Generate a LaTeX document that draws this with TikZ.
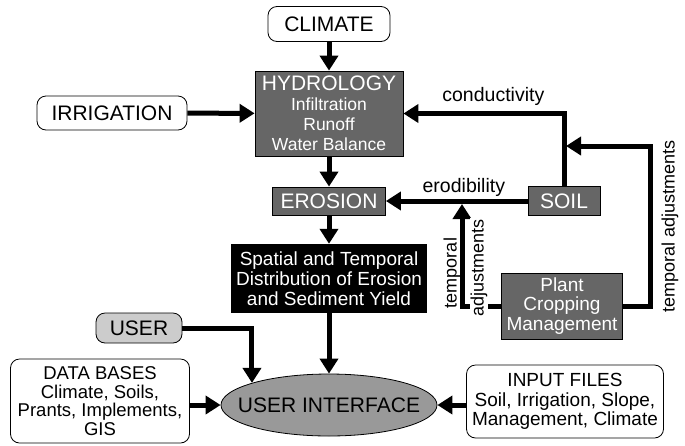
\documentclass[tikz,border=0pt]{standalone}
\usepackage{fontspec}
\setmainfont{Liberation Sans}
\usetikzlibrary{arrows.meta,shapes.geometric}

\begin{document}
\begin{tikzpicture}[x=1pt, y=-1pt,
    flow/.style = {line width=5pt,
        -{Triangle[length=15pt,width=18pt]}},
    lightbox/.style = {draw, rounded corners=9pt,
        fill=white, line width=0.8pt, align=center},
    darkbox/.style = {draw, fill=black!60, text=white,
        line width=0.8pt, align=center},
    big/.style = {font=\fontsize{21}{24}\selectfont},
    tag/.style = {font=\fontsize{18}{20}\selectfont, inner sep=2pt}]

\useasboundingbox (0,0) rectangle (685,445);

% Climate
\node[lightbox,big,minimum width=122pt,minimum height=35pt] (climate) at (329,24) {CLIMATE};

% Irrigation
\node[lightbox,big,minimum width=150pt,minimum height=34pt] (irrig) at (112,113) {IRRIGATION};

% Hydrology
\node[darkbox,minimum width=148pt,minimum height=85pt,
    font=\fontsize{17.5}{20}\selectfont] (hydro) at (329,113.5)
    {{\fontsize{21}{21}\selectfont HYDROLOGY}\\Infiltration\\Runoff\\Water Balance};

% Erosion
\node[darkbox,big,minimum width=113pt,minimum height=28pt,inner sep=0pt] (erosion) at (329,201) {EROSION};

% Soil
\node[darkbox,big,minimum width=72pt,minimum height=29pt,inner sep=0pt] (soil) at (564,201) {SOIL};

% Distribution
\node[fill=black,text=white,align=center,minimum width=196pt,minimum height=69pt,
    font=\fontsize{19}{20}\selectfont] (spatial) at (329,278.5)
    {Spatial and Temporal\\Distribution of Erosion\\and Sediment Yield};

% Plant
\node[darkbox,minimum width=121pt,minimum height=66pt,
    font=\fontsize{19}{19.5}\selectfont] (plant) at (562,306) {Plant\\Cropping\\Management};

% User
\node[lightbox,big,fill=black!20,minimum width=86pt,minimum height=30pt,inner sep=0pt] (user) at (139,328) {USER};

% Data bases
\node[lightbox,minimum width=179pt,minimum height=84pt,
    font=\fontsize{18.5}{18.5}\selectfont] (db) at (100,401)
    {DATA BASES\\Climate, Soils,\\Prants, Implements,\\GIS};

% Input files
\node[lightbox,minimum width=197pt,minimum height=73pt,
    font=\fontsize{19}{19.5}\selectfont] (input) at (565,401.5)
    {INPUT FILES\\Soil, Irrigation, Slope,\\Management, Climate};

% User interface
\node[ellipse,draw,fill=black!40,big,line width=0.8pt,minimum width=216pt,minimum height=62pt,
    inner xsep=-18pt,inner ysep=0pt] (ui) at (329,405) {USER INTERFACE};

% Joints
\coordinate (bend) at (650,146);
\coordinate (soiljoin) at (566,146);
\coordinate (erojoin) at (462,204);

% Arrows
\draw[flow] (climate) -- (hydro);
\draw[flow] (irrig) -- (hydro);
\draw[flow] (hydro) -- (erosion);
\draw[flow] (erosion) -- (spatial);
\draw[flow] (spatial) -- (ui);
\draw[flow] (soil) -- node[pos=0.45,above,tag,font=\fontsize{19.5}{20}\selectfont] {erodibility} (erosion);
\draw[flow] (soil.north) |- node[pos=0.72,above=3pt,tag,font=\fontsize{19.5}{20}\selectfont] {conductivity} (hydro.east);
\draw[flow] (plant.east) -| (bend) -- (soiljoin);
\draw[flow] (plant.west) -| (erojoin);
\draw[flow] (user.east) -| (ui.164);
\draw[flow] (db.east |- ui.west) -- (ui.west);
\draw[flow] (input.west |- ui.east) -- (ui.east);

% Labels
\node[tag,rotate=90] (tadjright) at (670,226) {temporal adjustments};
\node[tag,rotate=90] (temporal) at (452,273) {temporal};
\node[tag,rotate=90,fill=white,inner sep=1pt] (adjust) at (479,268) {adjustments};

\end{tikzpicture}
\end{document}
